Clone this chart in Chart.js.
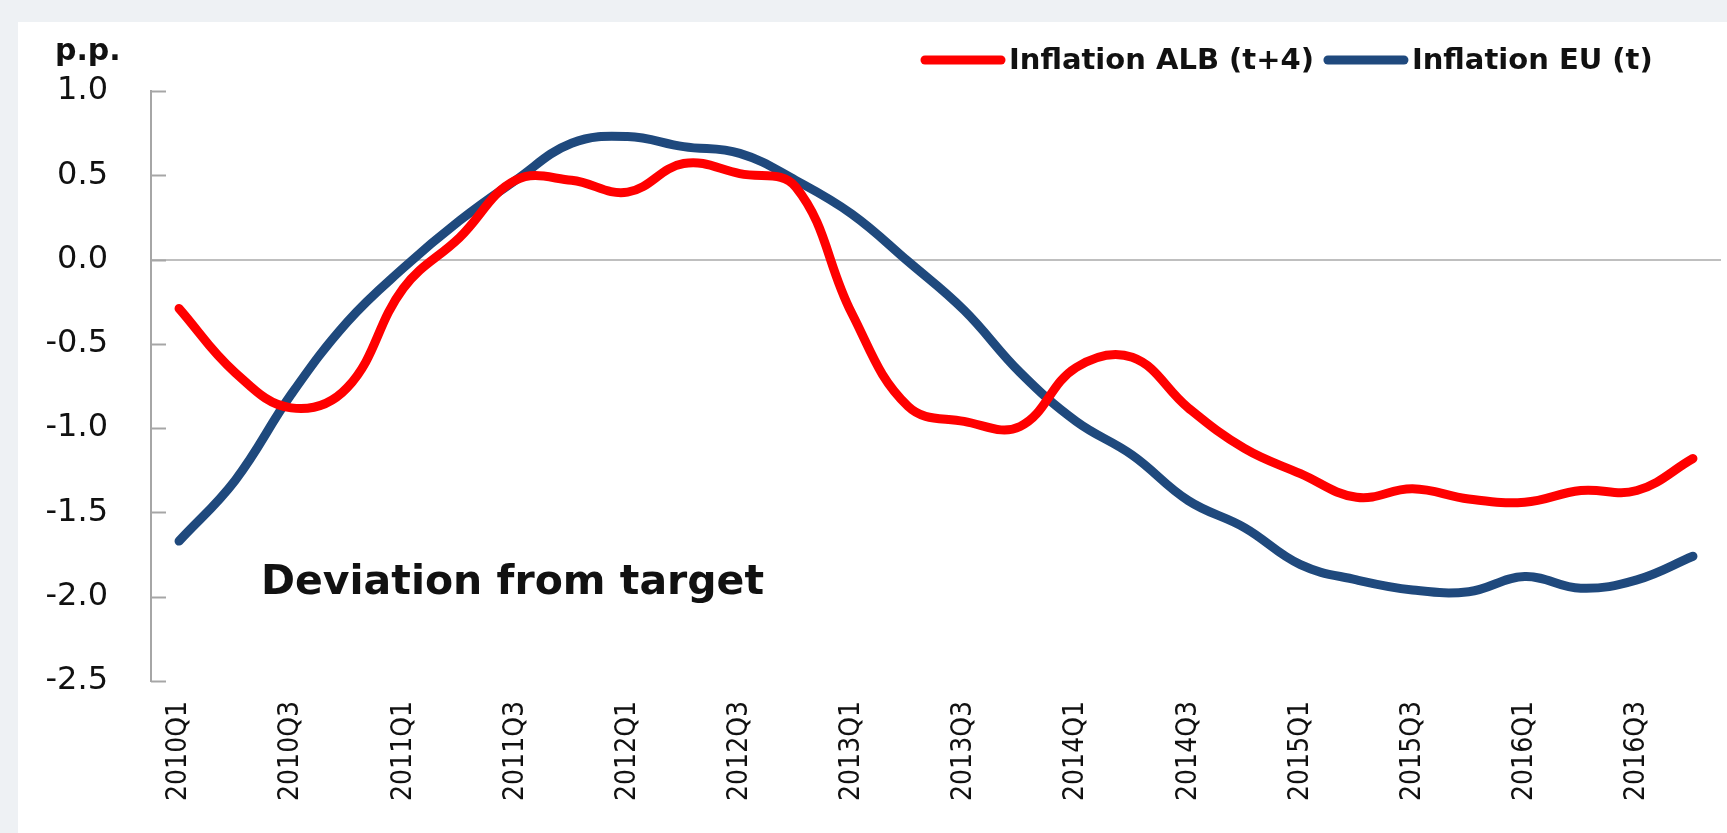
<!DOCTYPE html>
<html>
<head>
<meta charset="utf-8">
<script src="https://cdn.jsdelivr.net/npm/chart.js@4.4.1/dist/chart.umd.min.js"></script>
<style>
  html, body { margin: 0; padding: 0; background: #eef1f4; }
  #panel { position: absolute; left: 18px; top: 22px; width: 1709px; height: 811px; background: #ffffff; }
</style>
</head>
<body>
<div id="panel"><canvas id="chart" width="1709" height="811"></canvas></div>
<script>
// quarters 2010Q1 .. 2016Q4
const quarters = [
    '2010Q1', '2010Q2', '2010Q3', '2010Q4',
    '2011Q1', '2011Q2', '2011Q3', '2011Q4',
    '2012Q1', '2012Q2', '2012Q3', '2012Q4',
    '2013Q1', '2013Q2', '2013Q3', '2013Q4',
    '2014Q1', '2014Q2', '2014Q3', '2014Q4',
    '2015Q1', '2015Q2', '2015Q3', '2015Q4',
    '2016Q1', '2016Q2', '2016Q3', '2016Q4'
];

// deviation from target, p.p.
const inflationAlb = [
    -0.29, -0.67, -0.88, -0.76,
    -0.17, 0.13, 0.47, 0.47,
    0.40, 0.57, 0.51, 0.43,
    -0.32, -0.87, -0.96, -0.99,
    -0.64, -0.58, -0.88, -1.12,
    -1.27, -1.41, -1.36, -1.42,
    -1.44, -1.37, -1.37, -1.18
];
const inflationEu = [
    -1.67, -1.31, -0.80, -0.37,
    -0.05, 0.23, 0.47, 0.69,
    0.73, 0.67, 0.63, 0.47,
    0.27, -0.01, -0.30, -0.67,
    -0.96, -1.16, -1.43, -1.59,
    -1.81, -1.90, -1.96, -1.97,
    -1.88, -1.95, -1.90, -1.76
];

const seriesNames = ['Inflation ALB (t+4)', 'Inflation EU (t)'];
const seriesColors = ['#ff0000', '#1f497d'];
const yTicks = [1.0, 0.5, 0.0, -0.5, -1.0, -1.5, -2.0, -2.5];

// legend, unit label, note and inside tick marks
const extras = {
    id: 'extras',
    afterDraw(chart) {
        const ctx = chart.ctx;
        const area = chart.chartArea;
        const y = chart.scales.y;
        ctx.save();

        // tick marks inside the plot
        ctx.strokeStyle = '#a6a6a6';
        ctx.lineWidth = 2;
        yTicks.forEach(v => {
            const py = Math.round(y.getPixelForValue(v)) + 0.5;
            ctx.beginPath();
            ctx.moveTo(area.left, py);
            ctx.lineTo(area.left + 15, py);
            ctx.stroke();
        });

        ctx.fillStyle = '#111';
        ctx.textBaseline = 'alphabetic';
        ctx.font = 'bold 30px "DejaVu Sans"';
        ctx.fillText('p.p.', 37, 38);

        ctx.font = 'bold 41px "DejaVu Sans"';
        ctx.fillText('Deviation from target', 243, 572);

        // legend
        ctx.font = 'bold 29px "DejaVu Sans"';
        ctx.textBaseline = 'middle';
        ctx.lineCap = 'round';
        let x = 903;
        seriesNames.forEach((name, i) => {
            ctx.strokeStyle = seriesColors[i];
            ctx.lineWidth = 9;
            ctx.beginPath();
            ctx.moveTo(x + 4, 38);
            ctx.lineTo(x + 80, 38);
            ctx.stroke();
            x += 88;
            ctx.fillStyle = '#111';
            ctx.fillText(name, x, 39);
            x += ctx.measureText(name).width + 10;
        });
        ctx.restore();
    }
};

const data = {
    labels: quarters,
    datasets: [{
        label: seriesNames[0],
        data: inflationAlb,
        borderColor: seriesColors[0],
        backgroundColor: seriesColors[0],
        borderWidth: 9,
        tension: 0.4,
        pointRadius: 0,
        borderCapStyle: 'round',
        borderJoinStyle: 'round',
        fill: false
    }, {
        label: seriesNames[1],
        data: inflationEu,
        borderColor: seriesColors[1],
        backgroundColor: seriesColors[1],
        borderWidth: 9,
        tension: 0.4,
        pointRadius: 0,
        borderCapStyle: 'round',
        borderJoinStyle: 'round',
        fill: false
    }]
};

const config = {
    type: 'line',
    data: data,
    options: {
        responsive: false,
        animation: false,
        layout: { padding: { left: 0, right: 6, top: 69, bottom: 0 } },
        plugins: {
            legend: { display: false },
            tooltip: { enabled: false }
        },
        scales: {
            x: {
                offset: true,
                grid: { display: false, drawTicks: false },
                border: { display: false },
                ticks: {
                    autoSkip: false,
                    minRotation: 90,
                    maxRotation: 90,
                    padding: 20,
                    color: '#111',
                    font: { family: '"DejaVu Sans Condensed", "DejaVu Sans"', size: 28 },
                    callback: function (val, index) {
                        return index % 2 === 0 ? this.getLabelForValue(val) : '';
                    }
                },
                afterFit: scale => {
                    scale.height = 152;
                    scale.paddingLeft = 0;
                    scale.paddingRight = 0;
                }
            },
            y: {
                min: -2.5,
                max: 1.0,
                ticks: {
                    stepSize: 0.5,
                    padding: 43,
                    color: '#111',
                    font: { family: 'DejaVu Sans', size: 32 },
                    callback: v => v.toFixed(1)
                },
                grid: {
                    drawTicks: false,
                    lineWidth: 2,
                    color: c => (c.tick && c.tick.value === 0) ? '#bfbfbf' : 'rgba(0,0,0,0)'
                },
                border: { display: true, color: '#a6a6a6', width: 2 },
                afterFit: scale => { scale.width = 133; }
            }
        }
    },
    plugins: [extras]
};

let ctx = document.getElementById('chart').getContext('2d')
new Chart(ctx, config)
</script>
</body>
</html>
